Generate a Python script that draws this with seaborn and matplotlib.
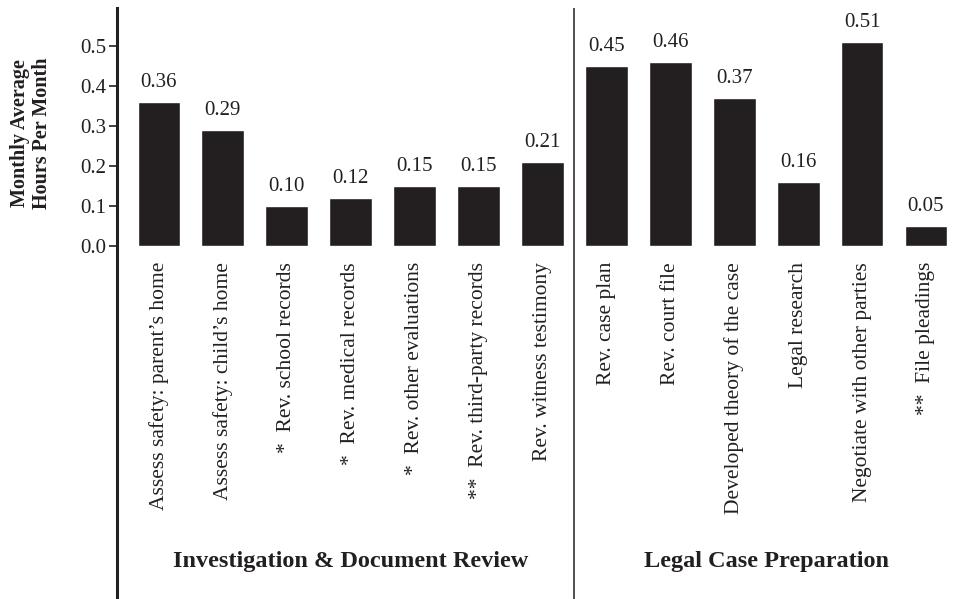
import matplotlib
matplotlib.use('Agg')
import matplotlib.pyplot as plt
import seaborn as sns
import pandas as pd

# data
tasks = [
    'Assess safety: parent’s home', 'Assess safety: child’s home',
    '*  Rev. school records', '*  Rev. medical records',
    '*  Rev. other evaluations', '**  Rev. third-party records',
    'Rev. witness testimony',
    'Rev. case plan', 'Rev. court file', 'Developed theory of the case',
    'Legal research', 'Negotiate with other parties', '**  File pleadings',
]
hours = [0.36, 0.29, 0.10, 0.12, 0.15, 0.15, 0.21,
         0.45, 0.46, 0.37, 0.16, 0.51, 0.05]
groups = ['Investigation & Document Review', 'Legal Case Preparation']
group_sizes = [7, 6]
yticks = [0.0, 0.1, 0.2, 0.3, 0.4, 0.5]

df = pd.DataFrame({'task': tasks, 'hours': hours})

ink = '#231f20'
sns.set_style('white')
plt.rcParams['font.family'] = ['Liberation Serif', 'DejaVu Serif']
plt.rcParams['text.color'] = ink
plt.rcParams['axes.labelcolor'] = ink
plt.rcParams['xtick.color'] = ink
plt.rcParams['ytick.color'] = ink

fig = plt.figure(figsize=(9.56, 5.99), dpi=100)
ax = fig.add_axes([117 / 956, 0, 1 - 117 / 956, 591 / 599])

sns.barplot(data=df, x='task', y='hours', color=ink, saturation=1,
            width=0.67, ax=ax)
ax.bar_label(ax.containers[0], fmt='%.2f', padding=7, fontsize=15, color=ink)

ax.set_xlim(-0.656, 12.47)
ax.set_ylim(-(599 - 246) / 400, (246 - 8) / 400)
ax.set_yticks(yticks)
ax.set_yticklabels([f'{t:.1f}' for t in yticks], fontsize=15)
ax.tick_params(axis='y', left=True, length=6, width=1.2, direction='out', pad=2)

ax.set_xlabel('')
ax.set_ylabel('')
ax.spines['bottom'].set_position(('data', 0))
ax.spines['bottom'].set_color('none')
ax.tick_params(axis='x', length=0, pad=11.5, labelsize=15.5)
for lbl in ax.get_xticklabels():
    lbl.set_rotation(90)
    lbl.set_va('top')
    lbl.set_ha('center')

for s in ['top', 'right']:
    ax.spines[s].set_visible(False)
ax.spines['left'].set_linewidth(2.2)
ax.spines['left'].set_color(ink)

# divider between the two task groups
ax.axvline(group_sizes[0] - 0.5, color=ink, lw=1.1)

start = 0
for name, n in zip(groups, group_sizes):
    ax.text(start + (n - 1) / 2, (246 - 562) / 400, name, ha='center',
            va='center', fontsize=17.5, fontweight='bold', color=ink)
    start += n

fig.text(31 / 956, 1 - 133 / 599, 'Monthly Average\nHours Per Month',
         rotation=90, ha='center', va='center', fontsize=14.5,
         fontweight='bold', color=ink, linespacing=1.15)

fig.savefig('out.png', dpi=100)
